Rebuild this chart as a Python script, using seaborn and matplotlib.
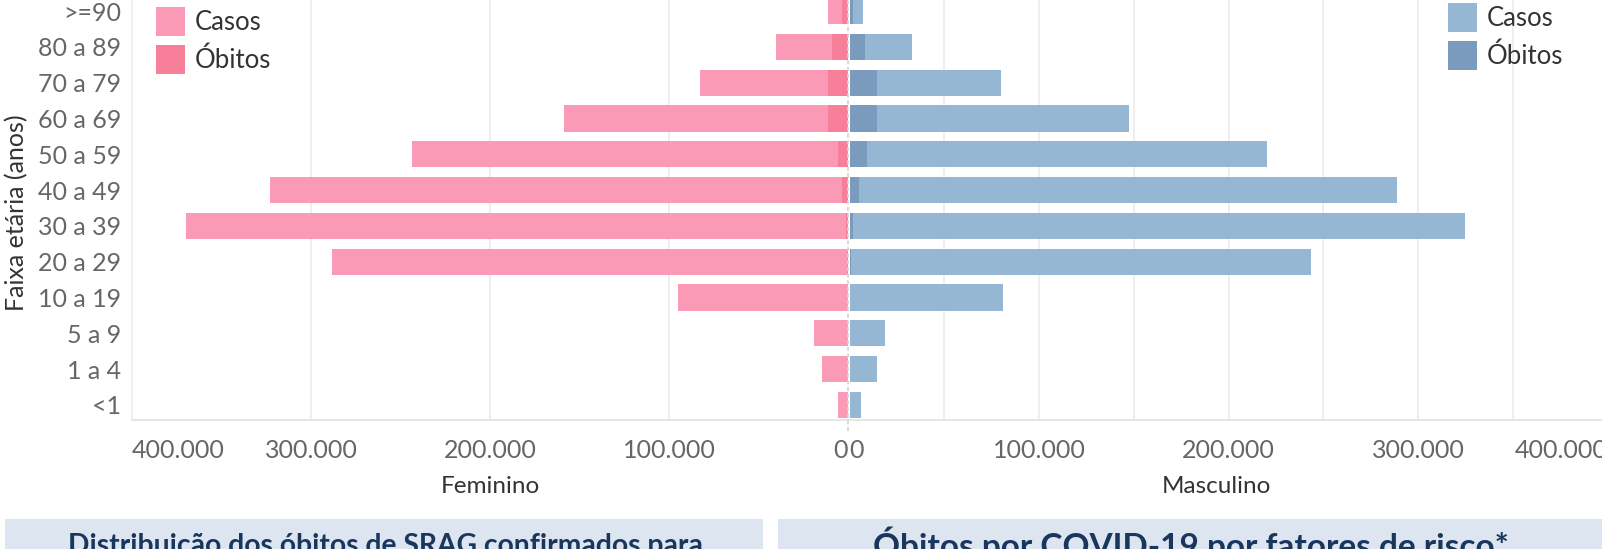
import matplotlib
matplotlib.use("Agg")
import matplotlib.pyplot as plt
import seaborn as sns
import pandas as pd
from matplotlib.patches import Patch, Rectangle
from matplotlib.ticker import MultipleLocator

# ---------------- data ----------------
faixas = [">=90", "80 a 89", "70 a 79", "60 a 69", "50 a 59", "40 a 49",
          "30 a 39", "20 a 29", "10 a 19", "5 a 9", "1 a 4", "<1"]
fem_casos = [11200, 40200, 82700, 158700, 243600, 322900,
             369800, 288300, 95000, 19000, 14500, 5600]
fem_obitos = [3400, 8900, 11200, 11200, 5600, 3400,
              1100, 300, 200, 100, 100, 100]
masc_casos = [7000, 33200, 80000, 147300, 220300, 288900,
              324800, 243500, 81000, 18600, 14400, 6000]
masc_obitos = [1700, 8200, 14500, 14500, 9000, 4800,
               1700, 700, 500, 400, 400, 500]
x_ticks = [0, 100000, 200000, 300000, 400000]
legend_labels = ["Casos", "Óbitos"]
titulo_esq = "Distribuição dos óbitos de SRAG confirmados para"
titulo_dir = "Óbitos por COVID-19 por fatores de risco*"

# ---------------- style ----------------
sns.set_style("white")
plt.rcParams['font.family'] = ['Lato', 'DejaVu Sans']

PINK_C = "#FA9AB7"
PINK_O = "#F77F9A"
BLUE_C = "#96B7D3"
BLUE_O = "#7A9BBD"
GRID = "#EEEEEE"
TICKC = "#666666"
LABC = "#333333"

W, H = 1602, 549
fig = plt.figure(figsize=(W / 100, H / 100), dpi=100)


def fx(px):
    return px / W


def fy(py):
    return 1 - py / H


row = 35.8
bottom_px = 420
ylim = (11.42, -0.42)
height_px = (ylim[0] - ylim[1]) * row
axL = fig.add_axes([fx(132), fy(bottom_px), (848 - 132) / W, height_px / H])
axR = fig.add_axes([fx(849.5), fy(bottom_px), (1607.5 - 849.5) / W, height_px / H])

dfF = pd.DataFrame({"faixa": faixas, "casos": fem_casos, "obitos": fem_obitos})
dfM = pd.DataFrame({"faixa": faixas, "casos": masc_casos, "obitos": masc_obitos})

for ax, df, cc, co in [(axL, dfF, PINK_C, PINK_O), (axR, dfM, BLUE_C, BLUE_O)]:
    sns.barplot(data=df, y="faixa", x="casos", order=faixas, orient="h",
                color=cc, saturation=1, width=0.73, ax=ax, zorder=2,
                linewidth=0, edgecolor="none")
    sns.barplot(data=df, y="faixa", x="obitos", order=faixas, orient="h",
                color=co, saturation=1, width=0.73, ax=ax, zorder=3,
                linewidth=0, edgecolor="none")
    ax.set_ylim(*ylim)
    ax.set_axisbelow(True)
    for s in ["top", "right"]:
        ax.spines[s].set_visible(False)
    ax.spines["bottom"].set_color("#E6E6E6")
    ax.spines["bottom"].set_linewidth(1.4)

tick_lab = [f"{v:,}".replace(",", ".") for v in x_ticks]

# left panel (inverted)
axL.set_xlim(max(x_ticks), 0)
axL.set_xticks(x_ticks)
axL.set_xticklabels(tick_lab)
axL.grid(axis="x", color=GRID, lw=1.4, zorder=0)
axL.spines["left"].set_color("#EDEDED")
axL.spines["left"].set_linewidth(1.2)
axL.tick_params(axis="x", length=8, width=1.4, color=GRID, pad=6,
                labelsize=18, labelcolor=TICKC)
axL.tick_params(axis="y", length=0, pad=8, labelsize=18, labelcolor=TICKC)
for t in axL.xaxis.get_major_ticks():
    if t.get_loc() == 0:
        t.gridline.set_visible(False)
for lab in axL.get_xticklabels():
    if lab.get_text() == tick_lab[-1]:
        lab.set_ha("left")
    elif lab.get_text() == tick_lab[0]:
        lab.set_ha("right")
axL.axvline(0, ymin=-11 / height_px, ymax=1, ls=(0, (2.5, 1.5)), color="#D3D3D3",
            lw=1.2, zorder=4, clip_on=False)
axL.set_xlabel("Feminino", fontsize=17.5, color=LABC)
axL.xaxis.set_label_coords(0.5, (bottom_px - 486.5) / height_px)
axL.xaxis.label.set_va("center")
axL.set_ylabel("Faixa etária (anos)", fontsize=18, color=LABC)
axL.yaxis.label.set_va("center")
axL.yaxis.set_label_coords((17 - 132) / 716, (bottom_px - 213) / height_px)

# right panel
axR.set_xlim(0, max(x_ticks))
axR.set_xticks(x_ticks)
axR.set_xticklabels(tick_lab)
axR.xaxis.set_minor_locator(MultipleLocator(50000))
axR.grid(axis="x", which="both", color=GRID, lw=1.4, zorder=0)
axR.spines["left"].set_visible(False)
axR.tick_params(axis="x", which="both", length=8, width=1.4, color=GRID, pad=6,
                labelsize=18, labelcolor=TICKC)
axR.tick_params(axis="y", length=0, labelleft=False)
axR.set_ylabel("")
for t in axR.xaxis.get_major_ticks():
    if t.get_loc() == 0:
        t.gridline.set_visible(False)
        t.tick1line.set_visible(False)
for lab in axR.get_xticklabels():
    if lab.get_text() == tick_lab[0]:
        lab.set_ha("left")
    elif lab.get_text() == tick_lab[-1]:
        lab.set_ha("right")
axR.set_xlabel("Masculino", fontsize=17.5, color=LABC)
axR.xaxis.set_label_coords((1216 - 849.5) / 758, (bottom_px - 486.5) / height_px)
axR.xaxis.label.set_va("center")

# legends
fs_leg = 18.5
fpx = fs_leg * 100 / 72
for ax, cols, x0, y0 in [(axL, (PINK_C, PINK_O), 156, 7), (axR, (BLUE_C, BLUE_O), 1448, 3)]:
    handles = [Patch(facecolor=c, edgecolor="none", linewidth=0) for c in cols]
    leg = ax.legend(handles, legend_labels, loc="upper left",
                    bbox_to_anchor=(fx(x0), fy(y0)), bbox_transform=fig.transFigure,
                    frameon=False, fontsize=fs_leg, handlelength=29 / fpx,
                    handleheight=1.29 * 27 / fpx, handletextpad=10 / fpx,
                    labelspacing=9 / fpx, borderpad=0, borderaxespad=0)
    for tx in leg.get_texts():
        tx.set_color(LABC)

# bottom title boxes
fig.add_artist(Rectangle((fx(5), 0), (763 - 5) / W, (H - 519) / H,
                         transform=fig.transFigure, facecolor="#DCE5F0",
                         edgecolor="none", zorder=0))
fig.add_artist(Rectangle((fx(778), 0), 1 - fx(778), (H - 519) / H,
                         transform=fig.transFigure, facecolor="#DCE5F0",
                         edgecolor="none", zorder=0))

renderer = fig.canvas.get_renderer()
for txt, cx, target_w, cap_top in [(titulo_esq, 385, 633, 534), (titulo_dir, 1191, 637, 533)]:
    t = fig.text(fx(cx), 0.5, txt, ha="center", va="baseline", fontsize=20,
                 fontweight="bold", color="#1B365D")
    w = t.get_window_extent(renderer=renderer).width
    fs = 20 * target_w / w
    t.set_fontsize(fs)
    cap_h = 0.72 * fs * 100 / 72
    t.set_y(fy(cap_top + cap_h))

fig.savefig("out.png", dpi=100)
